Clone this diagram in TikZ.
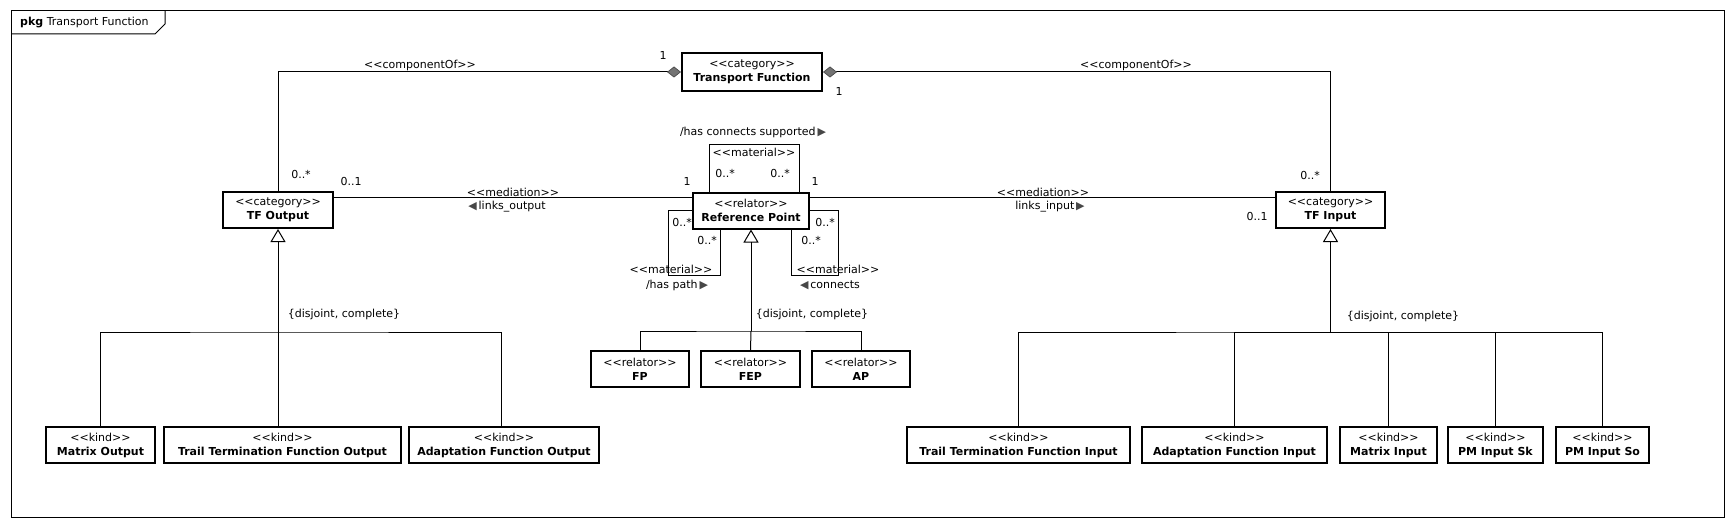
\documentclass[tikz,border=0pt]{standalone}
\usepackage{fontspec}
\setmainfont{DejaVu Sans}
\usetikzlibrary{arrows.meta}
\newcommand{\stereo}[1]{<{}<#1>{}>}
\newcommand{\rtri}{{\color{black!72}▶}}
\newcommand{\ltri}{{\color{black!72}◀}}
\begin{document}
\begin{tikzpicture}[x=1pt,y=-1pt,
  every node/.style={font=\fontsize{11}{14}\selectfont, inner sep=0pt},
  cls/.style={draw, line width=2pt, minimum height=36pt, align=center, inner sep=0pt},
  ln/.style={line width=1pt},
  gen/.style={ln, -{Triangle[open,width=15pt,length=13pt,line width=1pt]}},
  comp/.style={ln, {Diamond[fill=black!55, color=black!70, width=11pt, length=14pt, line width=0.7pt]}-}]
\useasboundingbox (0,0) rectangle (1735,527);
% frame
\draw[ln] (11,11) rectangle (1724,517);
\draw[ln] (11,34) -- (155,34) -- (165,24) -- (165,11);
\node[anchor=west] (title) at (20,23) {\textbf{pkg} Transport Function};
% classes
\node[cls, minimum width=140pt, minimum height=37pt] (tf) at (752,72) {\stereo{category}\\\textbf{Transport Function}};
\node[cls, minimum width=110pt] (tfo) at (278,210) {\stereo{category}\\\textbf{TF Output}};
\node[cls, minimum width=116pt] (rp) at (751,210.5) {\stereo{relator}\\\textbf{Reference Point}};
\node[cls, minimum width=109pt] (tfi) at (1330.5,210) {\stereo{category}\\\textbf{TF Input}};
\node[cls, minimum width=98pt] (fp) at (640,369) {\stereo{relator}\\\textbf{FP}};
\node[cls, minimum width=99pt] (fep) at (750.5,369) {\stereo{relator}\\\textbf{FEP}};
\node[cls, minimum width=98pt] (ap) at (861,369) {\stereo{relator}\\\textbf{AP}};
\node[cls, minimum width=109pt] (mo) at (100.5,445) {\stereo{kind}\\\textbf{Matrix Output}};
\node[cls, minimum width=237pt] (ttfo) at (282.5,445) {\stereo{kind}\\\textbf{Trail Termination Function Output}};
\node[cls, minimum width=190pt] (afo) at (504,445) {\stereo{kind}\\\textbf{Adaptation Function Output}};
\node[cls, minimum width=223pt] (ttfi) at (1018.5,445) {\stereo{kind}\\\textbf{Trail Termination Function Input}};
\node[cls, minimum width=185pt] (afi) at (1234.5,445) {\stereo{kind}\\\textbf{Adaptation Function Input}};
\node[cls, minimum width=97pt] (mi) at (1388.5,445) {\stereo{kind}\\\textbf{Matrix Input}};
\node[cls, minimum width=95pt] (pmsk) at (1495.5,445) {\stereo{kind}\\\textbf{PM Input Sk}};
\node[cls, minimum width=93pt] (pmso) at (1602.5,445) {\stereo{kind}\\\textbf{PM Input So}};
% componentOf
\draw[comp] (tf.west) -| (tfo.north);
\draw[comp] (tf.east) -| (tfi.north);
\node (c1) at (420,65) {\stereo{componentOf}};
\node (c2) at (1136,65) {\stereo{componentOf}};
\node (m1) at (663,55) {1};
\node (m2) at (839,91) {1};
\node (m3) at (301,174) {0..*};
\node (m4) at (1310,175) {0..*};
% mediation
\coordinate (yM) at (0,197);
\draw[ln] (tfo.east |- yM) -- (rp.west |- yM);
\draw[ln] (rp.east |- yM) -- (tfi.west |- yM);
\node (md1) at (513,192) {\stereo{mediation}};
\node (lo) at (507,207) {\ltri\,links\_output};
\node (md2) at (1043,192) {\stereo{mediation}};
\node (li) at (1050,207) {links\_input\,\rtri};
\node (m5) at (351,181) {0..1};
\node (m6) at (1257,216) {0..1};
\node (m7) at (687,181) {1};
\node (m8) at (815,181) {1};
% self loops
\coordinate (tl) at (709,144);
\coordinate (tr) at (799,144);
\draw[ln] (rp.north -| tl) |- (tr) -- (rp.north -| tr);
\node (hcs) at (753,132) {/has connects supported\,\rtri};
\node (mat1) at (754,152) {\stereo{material}};
\node (m9) at (725,173) {0..*};
\node (m10) at (780,173) {0..*};
\coordinate (ll) at (668,275);
\coordinate (lr) at (720,275);
\draw[ln] (rp.west) -| (ll) -| (rp.south -| lr);
\node (m11) at (682,222) {0..*};
\node (m12) at (707,240) {0..*};
\node (mat2) at (671,269) {\stereo{material}};
\node (hp) at (677,285) {/has path\,\rtri};
\coordinate (rr) at (838,275);
\coordinate (rl) at (791,275);
\draw[ln] (rp.east) -| (rr) -| (rp.south -| rl);
\node (m13) at (825,222) {0..*};
\node (m14) at (811,240) {0..*};
\node (mat3) at (838,269) {\stereo{material}};
\node (cn) at (830,285) {\ltri\,connects};
% generalizations
\coordinate (gL) at (tfo.south |- 0,332);
\draw[gen] (gL) -- (tfo.south);
\draw[ln] (mo.north) |- (gL) -| ([xshift=-3pt]afo.north);
\draw[ln] (gL |- ttfo.north) -- (gL);
\node (dc1) at (344,314) {\{disjoint, complete\}};
\coordinate (gM) at (rp.south |- 0,331);
\draw[gen] (gM) -- (rp.south);
\draw[ln] (fp.north) |- (gM) -| (ap.north);
\draw[ln] (fep.north) -- (gM);
\node (dc2) at (812,314) {\{disjoint, complete\}};
\coordinate (gR) at (tfi.south |- 0,332);
\draw[gen] (gR) -- (tfi.south);
\draw[ln] (ttfi.north) |- (gR) -| (pmso.north);
\draw[ln] (afi.north) |- (gR);
\draw[ln] (mi.north) |- (gR);
\draw[ln] (pmsk.north) |- (gR);
\node (dc3) at (1403,316) {\{disjoint, complete\}};
\end{tikzpicture}
\end{document}
